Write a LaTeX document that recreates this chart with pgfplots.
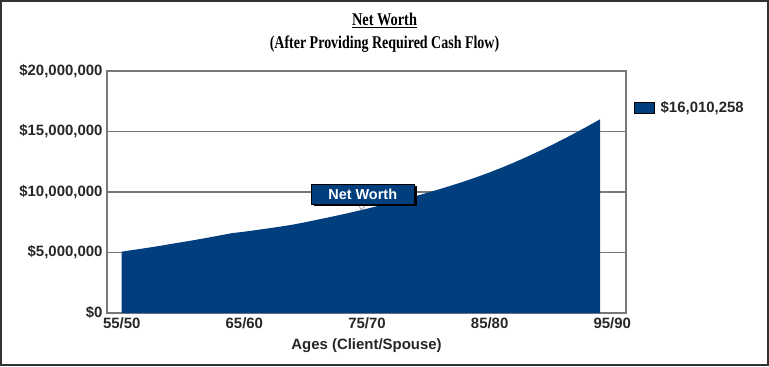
\documentclass[border=0pt]{standalone}
\usepackage{pgfplots}
\pgfplotsset{compat=1.18}
\usepackage{fontspec}
\setmainfont{Liberation Serif}
\newfontfamily\arial{Liberation Sans}
\definecolor{nwblue}{RGB}{0,62,126}
\definecolor{gridgray}{RGB}{120,120,120}
\begin{document}
\begin{tikzpicture}[x=1bp,y=1bp]
\useasboundingbox (0,0) rectangle (769,366);
\draw[line width=2bp, black!80] (1,1) rectangle (768,365);
\node[font=\fontsize{18}{20}\selectfont\bfseries] at (384.5,346) {\scalebox{0.8}[1]{\underline{Net Worth}}};
\node[font=\fontsize{18}{20}\selectfont\bfseries] at (384.5,322) {\scalebox{0.78}[1]{(After Providing Required Cash Flow)}};
\begin{axis}[
  at={(107bp,53bp)}, anchor=south west,
  width=519bp, height=242bp, scale only axis,
  xmin=53.8, xmax=96.12, ymin=0, ymax=20000000,
  axis line style={gridgray, line width=1.3bp},
  xtick={55,65,75,85,95},
  xticklabels={55/50,65/60,75/70,85/80,95/90},
  ytick={0,5000000,10000000,15000000,20000000},
  yticklabels={{\$0},{\$5,000,000},{\$10,000,000},{\$15,000,000},{\$20,000,000}},
  scaled y ticks=false,
  major tick length=0pt,
  ymajorgrids, grid style={gridgray, line width=1.1bp},
  ticklabel style={font=\arial\bfseries\fontsize{15}{16}\selectfont, text=black!85},
  yticklabel style={xshift=-1bp},
  xticklabel style={yshift=-1bp},
  xlabel={Ages (Client/Spouse)},
  xlabel style={font=\arial\bfseries\fontsize{15}{16}\selectfont, text=black!85, yshift=-3bp},
  legend style={at={(1.009,0.85)}, anchor=west, draw=none, fill=none,
    font=\arial\bfseries\fontsize{15}{16}\selectfont, text=black!85,
    legend cell align=left, /tikz/every even column/.append style={column sep=0pt}},
  legend image code/.code={\draw[fill=nwblue, draw=black, line width=0.8bp] (0bp,-6bp) rectangle (20bp,5bp);},
  /tikz/every legend entry/.append style={xshift=3bp},
]
\addplot[fill=nwblue, draw=none] table {
x y
55 5070000
56 5220000
57 5370000
58 5530000
59 5700000
60 5870000
61 6040000
62 6220000
63 6410000
64 6600000
65 6720000
66 6860000
67 7000000
68 7150000
69 7310000
70 7510000
71 7720000
72 7930000
73 8150000
74 8380000
75 8620000
76 8870000
77 9130000
78 9400000
79 9670000
80 9960000
81 10260000
82 10570000
83 10900000
84 11250000
85 11620000
86 12020000
87 12440000
88 12890000
89 13360000
90 13850000
91 14360000
92 14890000
93 15440000
94 16010258
} \closedcycle;
\addlegendentry{\hspace{4bp}\$16,010,258}
\fill[white, draw=gray, line width=0.6bp] (axis cs:74.25,9050000) -- (axis cs:74.95,9050000) -- (axis cs:74.55,8500000) -- cycle;
\node[fill=black, minimum width=103bp, minimum height=20bp, inner sep=0pt] at (axis cs:74.9,9670000) {};
\node[fill=nwblue, draw=black, line width=0.6bp, text=white, font=\arial\bfseries\fontsize{14.5}{15}\selectfont,
  minimum width=103bp, minimum height=20bp, inner sep=0pt] at (axis cs:74.65,9800000) {Net Worth};
\end{axis}
\end{tikzpicture}
\end{document}
